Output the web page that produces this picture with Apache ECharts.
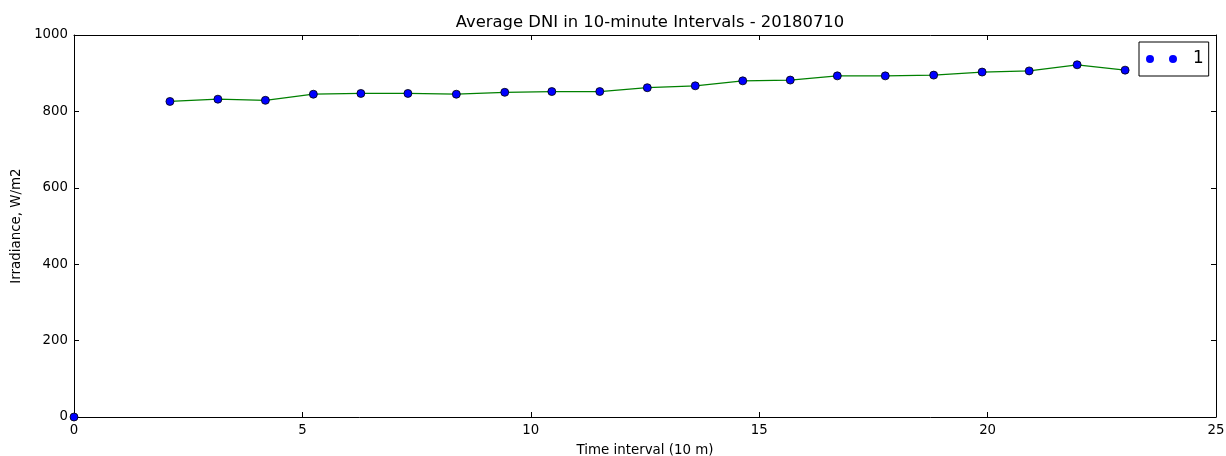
<!DOCTYPE html>
<html>
<head>
<meta charset="utf-8">
<script src="https://cdn.jsdelivr.net/npm/echarts@6/dist/echarts.min.js"></script>
<style>
html, body { margin: 0; padding: 0; background: #fff; }
#main { width: 1226px; height: 456px; }
</style>
</head>
<body>
<div id="main"></div>
<script>
// interval positions (10 m) and average DNI values
var intervals = [0, 2.10, 3.15, 4.19, 5.24, 6.28, 7.31, 8.37, 9.43, 10.46, 11.51,
    12.55, 13.60, 14.64, 15.68, 16.71, 17.76, 18.82, 19.88, 20.91, 21.96, 23.01];
var dni = [0, 826, 832, 829, 845, 847, 847, 845, 850, 852, 852,
    862, 867, 880, 882, 893, 893, 895, 903, 906, 922, 908];
var xTicks = [0, 5, 10, 15, 20, 25];
var yTicks = [0, 200, 400, 600, 800, 1000];

var pts = intervals.map(function (x, i) { return [x, dni[i]]; });
var linePts = pts.slice(1);   // green line starts at the first non-zero interval

var chart = echarts.init(document.getElementById('main'));
var fontFam = 'DejaVu Sans';

function plain(v) { return String(v); }

var option = {
    animation: false,
    backgroundColor: '#fff',
    title: {
        text: 'Average DNI in 10-minute Intervals - 20180710',
        left: 645,
        top: 10,
        textAlign: 'center',
        textStyle: { fontFamily: fontFam, fontSize: 16.4, fontWeight: 'normal', color: '#000' }
    },
    legend: {
        data: ['1'],
        left: 1139,
        top: 42,
        orient: 'vertical',
        padding: [7, 5, 7, 7],
        borderColor: '#000',
        borderWidth: 1,
        borderRadius: 0,
        itemWidth: 31,
        itemHeight: 8,
        icon: 'path://M0,4a4,4 0 1,0 8,0a4,4 0 1,0 -8,0M23,4a4,4 0 1,0 8,0a4,4 0 1,0 -8,0',
        itemStyle: { borderWidth: 0 },
        textStyle: { fontFamily: fontFam, fontSize: 16.8, color: '#000', lineHeight: 20,
            padding: [0, 0, 0, 11] }
    },
    grid: { left: 74, top: 35, width: 1142, height: 382, outerBoundsMode: 'none' },
    xAxis: [
        {
            type: 'value',
            min: 0, max: 25, interval: 5,
            name: 'Time interval (10 m)',
            nameLocation: 'middle',
            nameGap: 27,
            nameTextStyle: { fontFamily: fontFam, fontSize: 13.4, color: '#000' },
            axisLine: { show: true, onZero: false, lineStyle: { color: '#000', width: 1 } },
            axisTick: { inside: true, length: 5, lineStyle: { color: '#000' } },
            axisLabel: { fontFamily: fontFam, fontSize: 13.3, color: '#000', margin: 7,
                customValues: xTicks, formatter: plain },
            splitLine: { show: false }
        },
        {
            type: 'value',
            position: 'top',
            min: 0, max: 25, interval: 5,
            axisLine: { show: true, onZero: false, lineStyle: { color: '#000', width: 1 } },
            axisTick: { inside: true, length: 5, lineStyle: { color: '#000' } },
            axisLabel: { show: false },
            splitLine: { show: false }
        }
    ],
    yAxis: [
        {
            type: 'value',
            min: 0, max: 1000, interval: 200,
            name: 'Irradiance, W/m2',
            nameLocation: 'middle',
            nameGap: 49,
            nameTextStyle: { fontFamily: fontFam, fontSize: 13.4, color: '#000' },
            axisLine: { show: true, onZero: false, lineStyle: { color: '#000', width: 1 } },
            axisTick: { show: true, inside: true, length: 5, lineStyle: { color: '#000' } },
            axisLabel: { fontFamily: fontFam, fontSize: 13.3, color: '#000', margin: 6,
                customValues: yTicks, formatter: plain },
            splitLine: { show: false }
        },
        {
            type: 'value',
            position: 'right',
            min: 0, max: 1000, interval: 200,
            axisLine: { show: true, onZero: false, lineStyle: { color: '#000', width: 1 } },
            axisTick: { show: true, inside: true, length: 5, lineStyle: { color: '#000' } },
            axisLabel: { show: false },
            splitLine: { show: false }
        }
    ],
    series: [
        {
            name: 'line',
            type: 'line',
            data: linePts,
            symbol: 'none',
            lineStyle: { color: '#008000', width: 1.2 },
            z: 2
        },
        {
            name: '1',
            type: 'scatter',
            data: pts,
            symbol: 'circle',
            symbolSize: 8,
            itemStyle: { color: '#0000ff', borderColor: '#000', borderWidth: 0.8, opacity: 1 },
            z: 3
        }
    ]
};

chart.setOption(option);
</script>
</body>
</html>
